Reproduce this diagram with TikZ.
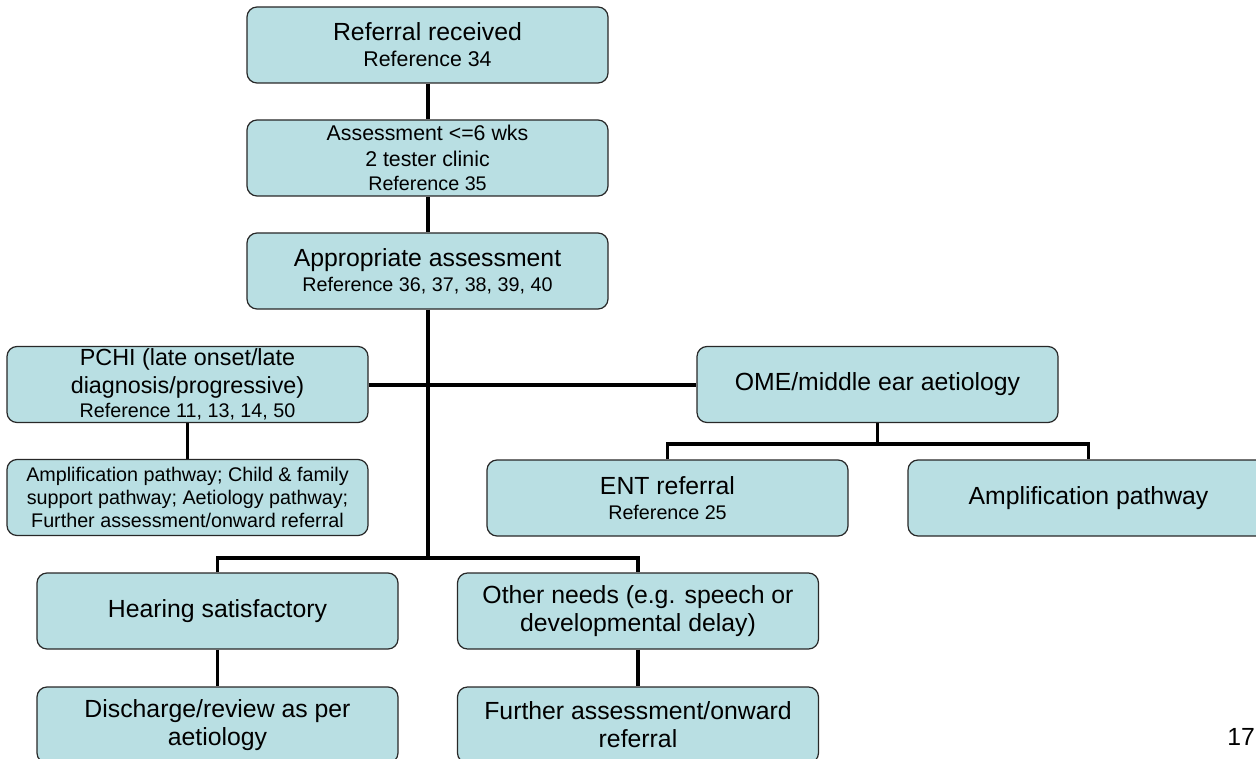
\documentclass[tikz,border=0pt]{standalone}
\usepackage{fontspec}
\setmainfont{Liberation Sans}
\usetikzlibrary{backgrounds}
\definecolor{boxfill}{RGB}{185,223,227}
\definecolor{boxedge}{RGB}{40,40,40}
% text sizes used in the boxes
\newcommand\fsbig{\fontsize{18.6}{21}\selectfont}
\newcommand\fsmid{\fontsize{16}{19}\selectfont}
\newcommand\fsref{\fontsize{14.8}{17.3}\selectfont}
\begin{document}
\begin{tikzpicture}[x=0.75pt,y=-0.75pt,
  flowbox/.style={draw=boxedge, line width=0.9pt, fill=boxfill,
    rounded corners=7.5pt, align=center, inner sep=0pt,
    minimum width=270.75pt, minimum height=57pt, font=\fsbig},
  trunk/.style={line width=3pt, black},
  branch/.style={line width=2.4pt, black}]
\useasboundingbox (0,0) rectangle (1256,759);

% top chain
\node[flowbox] (ref) at (427.5,45) {Referral received\\[-1.5pt]{\fsmid Reference 34}};
\node[flowbox] (assess) at (427.5,158) {{\fsmid Assessment <=6 wks}\\[-1.7pt]{\fsmid 2 tester clinic}\\[-3pt]{\fsref Reference 35}};
\node[flowbox] (approp) at (427.5,271) {Appropriate assessment\\[-2.25pt]{\fsref Reference 36, 37, 38, 39, 40}};

% left branch
\node[flowbox, font=\fontsize{17.5}{21}\selectfont] (pchi) at (187.5,384.5) {PCHI (late onset/late\\diagnosis/progressive)\\[-2.8pt]{\fsref Reference 11, 13, 14, 50}};
\node[flowbox, font=\fsref] (pchiout) at (187.5,497.5) {Amplification pathway; Child \& family\\support pathway; Aetiology pathway;\\Further assessment/onward referral};

% middle ear branch
\node[flowbox] (ome) at (877.5,384.5) {OME/middle ear aetiology};
\node[flowbox] (ent) at (667.5,498) {ENT referral\\[-2.25pt]{\fsref Reference 25}};
\node[flowbox] (amp) at (1088.5,498) {Amplification pathway};

% lower branches
\node[flowbox] (hear) at (217.5,611) {Hearing satisfactory};
\node[flowbox] (other) at (638,611) {Other needs (e.g. speech or\\developmental delay)};
\node[flowbox] (disch) at (217.5,725) {Discharge/review as per\\aetiology};
\node[flowbox] (further) at (638,725) {Further assessment/onward\\referral};

% page number
\node[anchor=base west, inner sep=0pt, font=\fsbig] (pagenum) at (1227,745) {17};

\coordinate (split) at (427.5,558);
\coordinate (omesplit) at (877.5,444);

\begin{scope}[on background layer]
  \draw[trunk] (ref.south) -- (assess.north);
  \draw[trunk] (assess.south) -- (approp.north);
  \draw[trunk] (approp.south) -- (split);
  \draw[trunk] (pchi.east) -- (ome.west);
  \draw[branch] (pchi.south) -- (pchiout.north);
  \draw[branch] (ome.south) -- (omesplit);
  \draw[branch] (ent.north) |- (omesplit) -| (amp.north);
  \draw[branch] (hear.north) |- (split) -| (other.north);
  \draw[branch] (hear.south) -- (disch.north);
  \draw[branch] (other.south) -- (further.north);
\end{scope}
\end{tikzpicture}
\end{document}
